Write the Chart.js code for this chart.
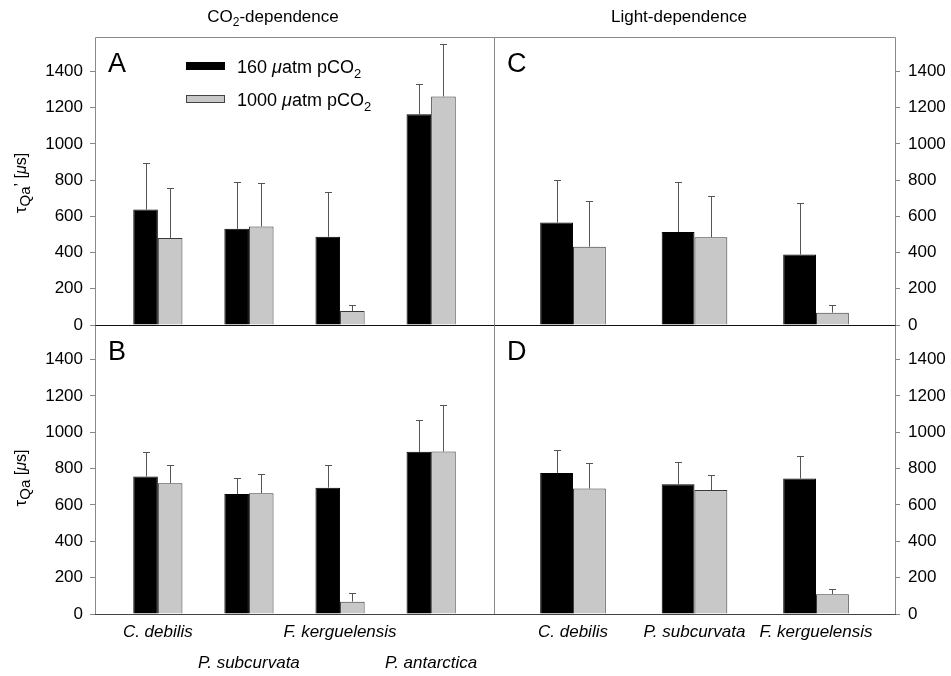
<!DOCTYPE html>
<html><head><meta charset="utf-8">
<script src="https://cdn.jsdelivr.net/npm/chart.js@4/dist/chart.umd.min.js"></script>
<style>
body{margin:0;background:#fff}
#wrap{position:relative;width:951px;height:676px;background:#fff}
#wrap canvas{position:absolute;left:0;top:0}
</style>
</head><body>
<div id="wrap">
<canvas id="cA" width="951" height="676"></canvas>
<canvas id="cC" width="951" height="676"></canvas>
<canvas id="cB" width="951" height="676"></canvas>
<canvas id="cD" width="951" height="676"></canvas>
</div>
<script>
// ---------- data ----------
const catsCO2 = ['C. debilis', 'P. subcurvata', 'F. kerguelensis', 'P. antarctica'];
const catsLight = ['C. debilis', 'P. subcurvata', 'F. kerguelensis'];
const yTicks = [0, 200, 400, 600, 800, 1000, 1200, 1400];
const seriesNames = ['160 μatm pCO2', '1000 μatm pCO2'];

// Panel A: tau Qa' , CO2-dependence
const A_low = [637, 531, 487, 1163];
const A_lowErr = [256, 261, 248, 167];
const A_high = [481, 544, 77, 1262];
const A_highErr = [278, 242, 33, 290];
// Panel C: tau Qa' , light-dependence
const C_low = [566, 513, 389];
const C_lowErr = [233, 277, 285];
const C_high = [432, 485, 68];
const C_highErr = [251, 228, 40];
// Panel B: tau Qa , CO2-dependence
const B_low = [756, 660, 695, 892];
const B_lowErr = [138, 89, 127, 173];
const B_high = [719, 664, 68, 894];
const B_highErr = [101, 105, 46, 256];
// Panel D: tau Qa , light-dependence
const D_low = [776, 714, 745];
const D_lowErr = [129, 123, 123];
const D_high = [690, 682, 109];
const D_highErr = [140, 83, 31];

const Y_MAX = 1590;
const FONT = "'Liberation Sans', Arial, Helvetica, sans-serif";

// ---------- plugins ----------
const errPlugin = {
  id: 'errbars',
  afterDatasetsDraw(chart) {
    const ctx = chart.ctx, y = chart.scales.y;
    ctx.save();
    ctx.strokeStyle = '#555';
    ctx.lineWidth = 1;
    chart.data.datasets.forEach((ds, di) => {
      const meta = chart.getDatasetMeta(di);
      meta.data.forEach((el, j) => {
        const v = ds.data[j].y + ds.err[j];
        const ye = Math.round(y.getPixelForValue(v)) + 0.5;
        const x = Math.round(el.x) + 0.5;
        ctx.beginPath();
        ctx.moveTo(x, el.y);
        ctx.lineTo(x, ye);
        ctx.moveTo(x - 3.5, ye);
        ctx.lineTo(x + 3.5, ye);
        ctx.stroke();
      });
    });
    ctx.restore();
  }
};

const framePlugin = {
  id: 'frame',
  afterDatasetsDraw(chart, args, opts) {
    const ctx = chart.ctx, a = chart.chartArea, y = chart.scales.y;
    const L = Math.round(a.left) + 0.5, R = Math.round(a.right) + 0.5;
    const T = Math.round(a.top) + 0.5, B = Math.round(a.bottom) + 0.5;
    ctx.save();
    ctx.lineWidth = 1;
    ctx.strokeStyle = '#8a8a8a';
    ctx.beginPath();
    if (opts.row === 'top') { ctx.moveTo(L, T); ctx.lineTo(R, T); }
    ctx.moveTo(L, T); ctx.lineTo(L, B);
    ctx.moveTo(R, T); ctx.lineTo(R, B);
    ctx.stroke();
    const y0 = Math.round(y.getPixelForValue(0)) + 0.5;
    ctx.strokeStyle = opts.row === 'top' ? '#111' : '#444';
    ctx.beginPath();
    ctx.moveTo(L - 0.5, y0); ctx.lineTo(R + 0.5, y0);
    ctx.stroke();
    ctx.fillStyle = '#000';
    ctx.font = '27px ' + FONT;
    ctx.textBaseline = 'alphabetic';
    ctx.textAlign = 'left';
    ctx.fillText(opts.letter, a.left + 13, a.top + 35);
    ctx.restore();
  }
};

function drawRuns(ctx, runs, x, y, align) {
  // runs: [text, fontSize, style, dy]
  let total = 0;
  runs.forEach(r => { ctx.font = (r[2] || '') + ' ' + r[1] + 'px ' + FONT; total += ctx.measureText(r[0]).width; });
  let cx = align === 'center' ? x - total / 2 : x;
  runs.forEach(r => {
    ctx.font = (r[2] || '') + ' ' + r[1] + 'px ' + FONT;
    ctx.fillText(r[0], cx, y + (r[3] || 0));
    cx += ctx.measureText(r[0]).width;
  });
}

const textPlugin = {
  id: 'texts',
  afterDraw(chart) {
    const ctx = chart.ctx;
    ctx.save();
    ctx.fillStyle = '#000';
    ctx.textAlign = 'left';
    ctx.textBaseline = 'alphabetic';
    // column titles
    drawRuns(ctx, [['CO', 17], ['2', 12, '', 4], ['-dependence', 17]], 273, 22, 'center');
    drawRuns(ctx, [['Light-dependence', 17]], 679, 22, 'center');
    // legend
    ctx.fillStyle = '#000';
    ctx.fillRect(186, 62, 39, 8);
    ctx.fillStyle = '#c8c8c8';
    ctx.fillRect(186, 95, 39, 8);
    ctx.strokeStyle = '#444';
    ctx.lineWidth = 1;
    ctx.strokeRect(186.5, 95.5, 38, 7);
    ctx.fillStyle = '#000';
    const parts = s => {
      const m = s.split('μ');
      const rest = m[1].replace(/2$/, '');
      return [[m[0], 18], ['μ', 18, 'italic'], [rest, 18], ['2', 13, '', 5]];
    };
    drawRuns(ctx, parts(seriesNames[0]), 237, 73, 'left');
    drawRuns(ctx, parts(seriesNames[1]), 237, 106, 'left');
    // y-axis titles
    const yTitle = (cy, prime) => {
      ctx.save();
      ctx.translate(26, cy);
      ctx.rotate(-Math.PI / 2);
      drawRuns(ctx, [['τ', 17], ['Qa', 15, '', 4], [prime ? '\u2019 [' : ' [', 16], ['μ', 16, 'italic'], ['s]', 16]], 0, 0, 'center');
      ctx.restore();
    };
    yTitle(183, true);
    yTitle(478, false);
    ctx.restore();
  }
};

// ---------- panels ----------
function panel(id, cfg) {
  const n = cfg.cats.length;
  const pad = n === 4 ? 0.69 : 0.65;
  const left = cfg.side === 'left';
  const top = cfg.row === 'top';
  const plugins = [errPlugin, framePlugin];
  if (cfg.texts) plugins.push(textPlugin);
  return new Chart(document.getElementById(id), {
    type: 'bar',
    data: {
      datasets: [
        { label: seriesNames[0], data: cfg.low.map((v, i) => ({ x: i, y: v })), err: cfg.lowErr,
          backgroundColor: '#000', borderColor: '#000', borderWidth: 1 },
        { label: seriesNames[1], data: cfg.high.map((v, i) => ({ x: i, y: v })), err: cfg.highErr,
          backgroundColor: '#c8c8c8', borderColor: '#3a3a3a', borderWidth: 1 }
      ]
    },
    options: {
      responsive: false,
      animation: false,
      layout: { padding: { left: left ? 0 : 494, right: left ? 457 : 0, top: top ? 37 : 325, bottom: top ? 351 : 0 } },
      datasets: { bar: { categoryPercentage: 0.54, barPercentage: 1, borderSkipped: 'start' } },
      scales: {
        x: {
          type: 'linear', offset: false, min: -pad, max: n - 1 + pad, display: !top,
          afterBuildTicks: s => { s.ticks = cfg.cats.map((c, i) => ({ value: i })); },
          afterFit: s => { if (!top) s.height = 62; },
          grid: { display: false, drawTicks: false, offset: false },
          border: { display: false },
          ticks: {
            autoSkip: false, maxRotation: 0, minRotation: 0, padding: 3, color: '#000',
            font: { family: FONT, size: 17, style: 'italic', lineHeight: 1.8 },
            callback: (v, i) => cfg.xLabel ? cfg.xLabel(i) : cfg.cats[i]
          }
        },
        y: {
          type: 'linear', position: left ? 'left' : 'right', min: 0, max: Y_MAX,
          afterBuildTicks: s => { s.ticks = yTicks.map(v => ({ value: v })); },
          afterFit: s => { s.width = left ? 95 : 56; },
          grid: { drawOnChartArea: false, drawTicks: true, tickLength: 5, color: '#888' },
          border: { display: false },
          ticks: { padding: left ? 7 : 8, color: '#000', font: { family: FONT, size: 17 }, callback: v => String(v) }
        }
      },
      plugins: {
        legend: { display: false },
        tooltip: { enabled: false },
        frame: { row: cfg.row, letter: cfg.letter }
      }
    },
    plugins
  });
}

panel('cA', { cats: catsCO2, low: A_low, lowErr: A_lowErr, high: A_high, highErr: A_highErr, side: 'left', row: 'top', letter: 'A', texts: true });
panel('cC', { cats: catsLight, low: C_low, lowErr: C_lowErr, high: C_high, highErr: C_highErr, side: 'right', row: 'top', letter: 'C' });
panel('cB', { cats: catsCO2, low: B_low, lowErr: B_lowErr, high: B_high, highErr: B_highErr, side: 'left', row: 'bottom', letter: 'B',
  xLabel: i => (i % 2 === 0 ? [catsCO2[i], ''] : ['', catsCO2[i]]) });
panel('cD', { cats: catsLight, low: D_low, lowErr: D_lowErr, high: D_high, highErr: D_highErr, side: 'right', row: 'bottom', letter: 'D' });
</script>
</body></html>
